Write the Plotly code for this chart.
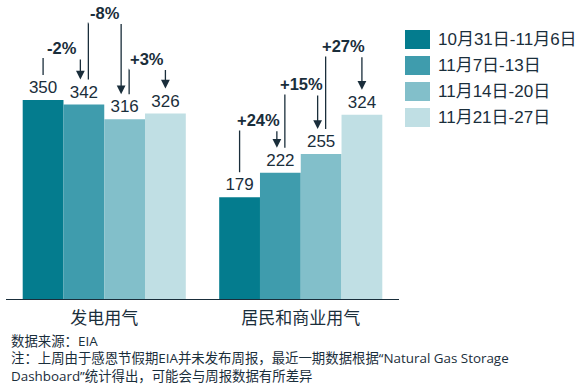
import plotly.graph_objects as go

# ---------------- data ----------------
categories = ["发电用气", "居民和商业用气"]
series_names = ["10月31日-11月6日", "11月7日-13日", "11月14日-20日", "11月21日-27日"]
power_gen = [350, 342, 316, 326]        # 发电用气
res_comm = [179, 222, 255, 324]         # 居民和商业用气
change_power = ["-2%", "-8%", "+3%"]   # week-over-week changes, 发电用气
change_res = ["+24%", "+15%", "+27%"]  # week-over-week changes, 居民和商业用气
footnotes = [
    "数据来源：EIA",
    "注：上周由于感恩节假期EIA并未发布周报，最近一期数据根据“Natural Gas Storage",
    "Dashboard”统计得出，可能会与周报数据有所差异",
]

# ---------------- style ----------------
colors = ["#047c8e", "#3f9cad", "#82bfca", "#c0dfe4"]
dark = "#1a2e3b"
W, H = 586, 389
ML, MR, MT, MB = 6, 187, 5, 90
PW, PH = W - ML - MR, H - MT - MB
YMAX = 517
U = YMAX / PH            # data units per pixel (y)
XU = 2.0 / PW            # data units per pixel (x)
BARGAP = 0.17
BW = (1 - BARGAP) / 4    # bar width in x units
rise_power = [17, 57, 20]  # connector heights (px) above label zone
rise_res = [18, 35, 34]
LAB = 25                 # px above bar top where connectors start
latin = "Liberation Sans, Arial, Noto Sans CJK SC"
cjk = "Noto Sans CJK SC, Microsoft YaHei, sans-serif"
note_font = "Open Sans, Noto Sans CJK SC, sans-serif"

group_values = [power_gen, res_comm]
group_changes = [change_power, change_res]
group_rise = [rise_power, rise_res]

fig = go.Figure()
for i, name in enumerate(series_names):
    vals = [power_gen[i], res_comm[i]]
    fig.add_trace(go.Bar(
        x=[0, 1], y=vals, name=name,
        marker=dict(color=colors[i], line=dict(width=0)),
        text=[str(v) for v in vals], textposition="outside",
        textfont=dict(size=17, color=dark, family=latin),
        cliponaxis=False, showlegend=False, hoverinfo="skip",
    ))

shapes = []
annotations = []

def bar_x(g, i):
    return g + (i - 1.5) * BW

def geom(g, k):
    vals = group_values[g]
    a, b = k, k + 1
    lx = bar_x(g, a) + (4.5 * XU if a > 0 else 0)
    ax_ = bar_x(g, b) - (3.5 * XU if b < 3 else 0)
    top = max(vals[a], vals[b]) + (LAB + group_rise[g][k]) * U
    return a, b, lx, ax_, top

for g in range(2):
    vals = group_values[g]
    for k in range(len(group_changes[g])):
        a, b, lx, ax_, top = geom(g, k)
        shapes.append(dict(type="line", xref="x", yref="y",
                           x0=lx, x1=lx, y0=vals[a] + LAB * U, y1=top,
                           line=dict(color=dark, width=1.3)))
        annotations.append(dict(x=ax_, y=vals[b] + LAB * U, ax=ax_, ay=top,
                                xref="x", yref="y", axref="x", ayref="y",
                                text="", showarrow=True, arrowhead=2,
                                arrowsize=1.35, arrowwidth=1.3,
                                arrowcolor=dark, standoff=0))
for g in range(2):
    for k, lab in enumerate(group_changes[g]):
        a, b, lx, ax_, top = geom(g, k)
        annotations.append(dict(x=(lx + ax_) / 2, y=top + 10 * U,
                                xref="x", yref="y", text="<b>%s</b>" % lab,
                                showarrow=False, bgcolor="white", borderpad=1,
                                font=dict(size=16.5, color=dark, family=latin)))

# custom legend
for i, name in enumerate(series_names):
    cy = 39.5 + 26 * i
    py = (PH + MT - cy) / PH
    shapes.append(dict(type="rect", xref="paper", yref="paper",
                       x0=(405 - ML) / PW, x1=(430 - ML) / PW,
                       y0=py - 9.5 / PH, y1=py + 9.5 / PH,
                       fillcolor=colors[i], line=dict(width=0)))
    annotations.append(dict(x=(436 - ML) / PW, y=py, xref="paper", yref="paper",
                            xanchor="left", yanchor="middle", showarrow=False,
                            text=name, font=dict(size=17, color=dark, family=latin)))

# footnotes (one block, three lines)
annotations.append(dict(x=(9 - ML) / PW, y=(PH + MT - 358.5) / PH,
                        xref="paper", yref="paper", xanchor="left",
                        yanchor="middle", align="left", showarrow=False,
                        text="<br>".join(footnotes),
                        font=dict(size=13.4, color=dark, family=note_font)))

fig.update_layout(
    width=W, height=H, margin=dict(l=ML, r=MR, t=MT, b=MB),
    paper_bgcolor="white", plot_bgcolor="white",
    barmode="group", bargap=BARGAP, bargroupgap=0,
    shapes=shapes, annotations=annotations, showlegend=False,
    hovermode=False,
    xaxis=dict(range=[-0.5, 1.5], tickvals=[0, 1], ticktext=categories,
               showline=True, linecolor=dark, linewidth=1.3, ticks="",
               showgrid=False, zeroline=False, ticklabelstandoff=3,
               tickfont=dict(size=17, color=dark, family=cjk)),
    yaxis=dict(range=[0, YMAX], visible=False, showgrid=False),
)

fig.write_html("out.html",
               config={"displayModeBar": False, "staticPlot": True},
               post_script="document.body.style.margin='0';"
                           "document.body.style.overflow='hidden';")
